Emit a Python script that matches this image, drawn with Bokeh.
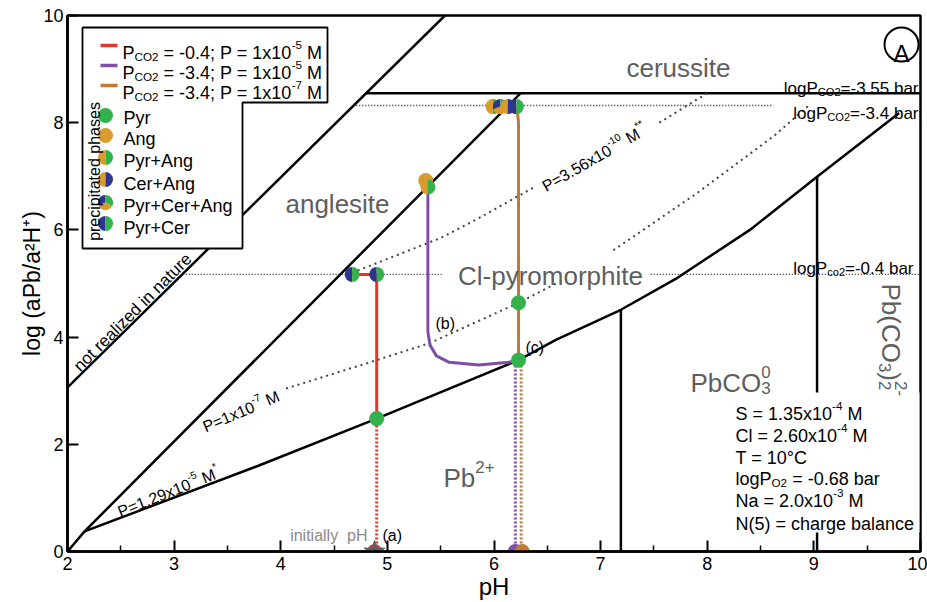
import numpy as np
from bokeh.plotting import figure
from bokeh.models import ColumnDataSource, Range1d, FixedTicker
from bokeh.embed import file_html
from bokeh.resources import INLINE
from bokeh.core.properties import value, field

# ---------------- data ----------------
x_ticks = [2, 3, 4, 5, 6, 7, 8, 9, 10]
x_minor = [2.5, 3.5, 4.5, 5.5, 6.5, 7.5, 8.5, 9.5]
y_ticks = [0, 2, 4, 6, 8, 10]

# solid phase boundaries
nr_ph = [2.0, 5.54];           nr_log = [3.06, 10.0]           # not realized in nature
ang_ph = [2.0, 2.16, 6.25];    ang_log = [0.0, 0.375, 8.55]    # anglesite / Cl-pyromorphite
pb_ph = [2.16, 3.79, 4.90, 6.23, 6.58, 7.19, 7.70, 8.40, 9.03, 9.80]
pb_log = [0.375, 1.60, 2.48, 3.57, 3.95, 4.51, 5.08, 6.00, 6.99, 8.18]
cer_ph = [4.80, 10.0];         cer_log = [8.55, 8.55]
pbco3_ph = [7.19, 7.19];       pbco3_log = [0.0, 4.51]
pbco32_ph = [9.03, 9.03];      pbco32_log = [0.0, 6.99]

# dotted CO2 isobars
co2_04_ph_a = [3.08, 5.51];    co2_04_ph_b = [7.47, 10.0];  co2_04_log = [5.17, 5.17]
co2_34_ph = [4.68, 8.62];      co2_34_log = [8.32, 8.32]

# dotted P isopleths
p7_ph_a = [4.05, 4.90, 5.40, 6.23, 6.60];  p7_log_a = [3.04, 3.57, 3.89, 4.64, 5.02]
p7_ph_b = [7.12, 7.90, 8.63, 8.95];        p7_log_b = [5.62, 6.68, 7.76, 8.32]
p356_ph_a = [4.67, 5.50, 5.84, 6.38];      p356_log_a = [5.20, 5.85, 6.20, 6.80]
p356_ph_b = [7.55, 8.00];                  p356_log_b = [8.00, 8.55]

# reaction paths
red_dot_ph = [4.90, 4.90];     red_dot_log = [0.0, 2.48]
red_ph = [4.90, 4.90, 4.67];   red_log = [2.48, 5.17, 5.17]
pur_dot_ph = [6.20, 6.20];     pur_dot_log = [0.0, 3.57]
org_dot_ph = [6.255, 6.255];   org_dot_log = [0.0, 3.57]
pur_ph = [6.23, 6.14, 5.86, 5.58, 5.46, 5.40, 5.38, 5.38]
pur_log = [3.57, 3.53, 3.48, 3.53, 3.65, 3.85, 4.10, 6.80]
org_ph = [6.23, 6.23, 6.22, 6.21]
org_log = [3.57, 8.00, 8.20, 8.30]

# precipitated phases
mk_ph = [4.90, 4.90, 4.67, 5.36, 5.38, 6.23, 6.23, 5.99, 6.06, 6.13, 6.21]
mk_log = [2.48, 5.17, 5.17, 6.92, 6.80, 3.57, 4.64, 8.30, 8.30, 8.30, 8.30]
mk_kind = ["Pyr", "Pyr+Cer", "Pyr+Cer", "Ang", "Pyr+Ang", "Pyr", "Pyr",
           "Pyr+Ang", "Pyr+Cer+Ang", "Cer+Ang", "Pyr+Cer"]

# initial pH points
start_ph = [4.88, 6.20, 6.265]
start_log = [0.0, 0.0, 0.0]
start_path = ["red", "purple", "orange"]

legend_lines = [("-0.4", "-5"), ("-3.4", "-5"), ("-3.4", "-7")]
legend_kinds = ["Pyr", "Ang", "Pyr+Ang", "Cer+Ang", "Pyr+Cer+Ang", "Pyr+Cer"]

# ---------------- styling ----------------
RED, PURPLE, ORANGE = "#e0392c", "#7e4fa6", "#c07a34"
GREEN, GOLD, BLUE = "#33b14a", "#d99b2b", "#2e3590"
GRAY = "#5e5e5e"
PATHC = {"red": RED, "purple": PURPLE, "orange": ORANGE}
KIND = {
    "Pyr": [(0, 360, GREEN)],
    "Ang": [(0, 360, GOLD)],
    "Pyr+Ang": [(90, 270, GOLD), (270, 450, GREEN)],
    "Cer+Ang": [(90, 270, GOLD), (270, 450, BLUE)],
    "Pyr+Cer": [(90, 270, BLUE), (270, 450, GREEN)],
    "Pyr+Cer+Ang": [(90, 200, BLUE), (200, 330, GOLD), (330, 450, GREEN)],
}
FONT = "Liberation Sans"

FW, FH = 927, 602
L, R, T, B = 67, 920, 15, 551
SX = (R - L) / 8.0
SY = (B - T) / 10.0


def X(px):
    return 2 + (px - L) / SX


def Y(py):
    return (B - py) / SY


W = {' ': 278, '\u00a0': 278, '!': 278, '(': 333, ')': 333, '*': 389, '+': 584, ',': 278,
     '-': 333, '.': 278, '/': 278, ':': 278, ';': 278, '=': 584, '°': 400,
     'A': 667, 'B': 667, 'C': 722, 'D': 722, 'E': 667, 'F': 611, 'G': 778, 'H': 722,
     'I': 278, 'J': 500, 'K': 667, 'L': 556, 'M': 833, 'N': 722, 'O': 778, 'P': 667,
     'Q': 778, 'R': 722, 'S': 667, 'T': 611, 'U': 722, 'V': 667, 'W': 944, 'X': 667,
     'Y': 667, 'Z': 611, 'a': 556, 'b': 556, 'c': 500, 'd': 556, 'e': 556, 'f': 278,
     'g': 556, 'h': 556, 'i': 222, 'j': 222, 'k': 500, 'l': 222, 'm': 833, 'n': 556,
     'o': 556, 'p': 556, 'q': 556, 'r': 333, 's': 500, 't': 278, 'u': 556, 'v': 500,
     'w': 722, 'x': 500, 'y': 500, 'z': 500}
for d in "0123456789":
    W[d] = 556


def tw(s, size):
    return sum(W.get(c, 556) for c in s) * size / 1000.0


TX = dict(x=[], y=[], text=[], angle=[], fs=[], color=[])


def rich(parts, px, py, size, color="black", angle=0, align="left"):
    if isinstance(parts, str):
        parts = [(parts, "")]
    a = np.radians(angle)
    dx, dy = np.cos(a), -np.sin(a)
    ux, uy = -np.sin(a), -np.cos(a)
    segs, total, last = [], 0.0, 0.0
    for prt in parts:
        txt, mode = prt[0], prt[1]
        adv = prt[2] if len(prt) > 2 else True
        s = size * 0.65 if mode else size
        off = total if adv else last
        last = off
        end = off + tw(txt, s)
        total = max(total, end)
        lead = len(txt) - len(txt.lstrip(" "))
        t2 = txt.strip(" ").replace("  ", "\u00a0\u00a0")
        segs.append((t2, mode, s, off + tw(" " * lead, s)))
    start = {"left": 0.0, "center": total / 2.0, "right": total}[align]
    for txt, mode, s, off in segs:
        if not txt:
            continue
        shift = {"": 0.0, "sub": -0.22 * size, "sup": 0.42 * size}[mode]
        o = off - start
        sxp = px + dx * o + ux * shift
        syp = py + dy * o + uy * shift
        TX["x"].append(X(sxp)); TX["y"].append(Y(syp)); TX["text"].append(txt)
        TX["angle"].append(a); TX["fs"].append("%.1fpx" % s); TX["color"].append(color)


# ---------------- figure ----------------
p = figure(width=FW, height=FH, x_range=Range1d(2, 10), y_range=Range1d(0, 10),
           output_backend="svg", toolbar_location=None,
           min_border_left=L, min_border_right=FW - R, min_border_top=T,
           min_border_bottom=FH - B)
p.xgrid.visible = False
p.ygrid.visible = False
p.background_fill_color = "white"
p.border_fill_color = "white"
p.outline_line_color = "black"
p.outline_line_width = 2.5
p.outline_line_alpha = 1.0

p.xaxis.ticker = FixedTicker(ticks=x_ticks, minor_ticks=x_minor)
p.yaxis.ticker = FixedTicker(ticks=y_ticks)
for ax in (p.xaxis[0], p.yaxis[0]):
    ax.axis_line_width = 2.5
    ax.major_tick_in = 11
    ax.major_tick_out = 0
    ax.major_tick_line_width = 2
    ax.major_label_text_font = FONT
    ax.major_label_text_font_size = "18px"
    ax.major_label_text_color = "black"
    ax.axis_label_text_font = FONT
    ax.axis_label_text_font_style = "normal"
    ax.axis_label_text_color = "black"
p.xaxis.minor_tick_in = 6
p.xaxis.minor_tick_out = 0
p.xaxis.minor_tick_line_width = 1.5
p.yaxis.minor_tick_line_color = None
p.xaxis.axis_label = "pH"
p.xaxis.axis_label_text_font_size = "24px"
p.xaxis.major_label_standoff = 5
p.xaxis.axis_label_standoff = 0
p.yaxis.axis_label = "log (aPb/a²H⁺)"
p.yaxis.axis_label_text_font_size = "23px"
p.yaxis.major_label_standoff = 4
p.yaxis.axis_label_standoff = -5

# boundaries
for xs, ys in [(nr_ph, nr_log), (ang_ph, ang_log), (pb_ph, pb_log), (cer_ph, cer_log),
               (pbco3_ph, pbco3_log), (pbco32_ph, pbco32_log)]:
    p.line(xs, ys, line_color="black", line_width=2.5)

# dotted horizontals
for xs, ys in [(co2_04_ph_a, co2_04_log), (co2_04_ph_b, co2_04_log), (co2_34_ph, co2_34_log)]:
    p.line(xs, ys, line_color="#222222", line_width=1.4, line_dash="1 2")
# dotted diagonals
for xs, ys in [(p7_ph_a, p7_log_a), (p7_ph_b, p7_log_b), (p356_ph_a, p356_log_a),
               (p356_ph_b, p356_log_b)]:
    p.line(xs, ys, line_color="#444444", line_width=2, line_dash="2 4")

# info box background
p.quad(left=X(728), right=X(919), top=Y(392), bottom=Y(532), fill_color="white",
       line_color=None)

# paths
p.line(red_dot_ph, red_dot_log, line_color=RED, line_width=3, line_dash="2 2")
p.line(pur_dot_ph, pur_dot_log, line_color=PURPLE, line_width=3, line_dash="2 2")
p.line(org_dot_ph, org_dot_log, line_color=ORANGE, line_width=3, line_dash="2 2")
p.line(red_ph, red_log, line_color=RED, line_width=3)
p.line(pur_ph, pur_log, line_color=PURPLE, line_width=3)
p.line(org_ph, org_log, line_color=ORANGE, line_width=3)

# legend box
lp = [(82, 27), (327, 27), (327, 102), (242, 102), (242, 248), (82, 248)]
p.patch([X(a) for a, b in lp], [Y(b) for a, b in lp], fill_color="white",
        line_color="black", line_width=1.8)
for i, (pc, pp) in enumerate(legend_lines):
    yy = 45 + 20 * i
    p.line([X(100), X(117)], [Y(yy), Y(yy)], line_color=[RED, PURPLE, ORANGE][i],
           line_width=3.5)
    rich([("P", ""), ("CO2", "sub"), (" = %s; P = 1x10" % pc, ""), (pp, "sup"), (" M", "")],
         122, 52 + 20 * i, 18)
leg_mk_y = [115, 135, 157, 179, 202, 223]
leg_txt_y = [117, 138, 160, 183, 205, 227]

# markers (data + legend)
WX = dict(x=[], y=[], s=[], e=[], c=[])
CX = dict(x=[], y=[], c=[])


def add_marker(x, y, kind):
    parts = KIND[kind]
    if len(parts) == 1:
        CX["x"].append(x); CX["y"].append(y); CX["c"].append(parts[0][2])
    else:
        for s, e, c in parts:
            WX["x"].append(x); WX["y"].append(y)
            WX["s"].append(np.radians(s)); WX["e"].append(np.radians(e)); WX["c"].append(c)


for x, y, k in zip(mk_ph, mk_log, mk_kind):
    add_marker(x, y, k)
for k, yy, ty in zip(legend_kinds, leg_mk_y, leg_txt_y):
    add_marker(X(105), Y(yy), k)
    rich(k, 123, ty, 18)

p.scatter(start_ph, start_log, size=15, marker="circle",
          fill_color=[PATHC[s] for s in start_path], line_color=None)
p.scatter([start_ph[0]], [start_log[0]], size=22, marker="star", fill_color="#5f6063",
          line_color="#5f6063", line_width=1)

p.scatter(x="x", y="y", source=ColumnDataSource(CX), size=15, marker="circle",
          fill_color="c", line_color=None)
p.wedge(x="x", y="y", source=ColumnDataSource(WX), radius=7.5, radius_units="screen",
        start_angle="s", end_angle="e", fill_color="c", line_color=None)

# circled A
p.scatter([X(901)], [Y(44)], size=34, marker="circle", fill_color=None,
          line_color="black", line_width=2)
rich("A", 901, 52.6, 24, align="center")

# ---------------- texts ----------------
rich("cerussite", 678, 67, 26, GRAY, align="center")
rich("anglesite", 337, 203, 26, GRAY, align="center")
rich("Cl-pyromorphite", 550, 275, 26, GRAY, align="center")
rich([("Pb", ""), ("2+", "sup")], 443, 477, 26, GRAY)
rich([("PbCO", ""), ("3", "sub"), ("0", "sup", False)], 690, 382, 26, GRAY)
rich([("Pb(CO", ""), ("3", "sub"), (")", ""), ("2", "sub"), ("2-", "sup", False)],
     890, 283, 26, GRAY, angle=-90)
rich("not realized in nature", 76, 368, 17, angle=45)
rich([("P=1.29x10", ""), ("-5", "sup"), (" M", ""), ("*", "sup")], 118, 512, 16, angle=22)
rich([("P=1x10", ""), ("-7", "sup"), (" M", "")], 203, 427, 16, angle=23)
rich([("P=3.56x10", ""), ("-10", "sup"), (" M", ""), ("**", "sup")], 543, 187, 16, angle=30)
rich([("logP", ""), ("CO2", "sub"), ("=-3.55 bar", "")], 918, 88, 17, align="right")
rich([("logP", ""), ("CO2", "sub"), ("=-3.4 bar", "")], 918, 113, 17, align="right")
rich([("logP", ""), ("co2", "sub"), ("=-0.4 bar", "")], 913, 268, 17, align="right")
rich("initially  pH", 367, 535, 16, "#8a8a8a", align="right")
rich("(a)", 382, 535, 16)
rich("(b)", 435, 323, 16)
rich("(c)", 525, 347, 16)
rich("precipitated phases", 94, 171, 16, angle=90, align="center")

info_y = [413, 435, 457, 478, 500, 523]
info = [
    [("S = 1.35x10", ""), ("-4", "sup"), (" M", "")],
    [("Cl = 2.60x10", ""), ("-4", "sup"), (" M", "")],
    [("T = 10°C", "")],
    [("logP", ""), ("O2", "sub"), (" = -0.68 bar", "")],
    [("Na = 2.0x10", ""), ("-3", "sup"), (" M", "")],
    [("N(5) = charge balance", "")],
]
for parts, yy in zip(info, info_y):
    rich(parts, 735, yy, 18)

p.text(x="x", y="y", text="text", angle="angle", source=ColumnDataSource(TX),
       text_font_size=field("fs"), text_color="color", text_font=value(FONT),
       text_align="left", text_baseline="alphabetic")

open("out.html", "w").write(file_html(p, INLINE))
